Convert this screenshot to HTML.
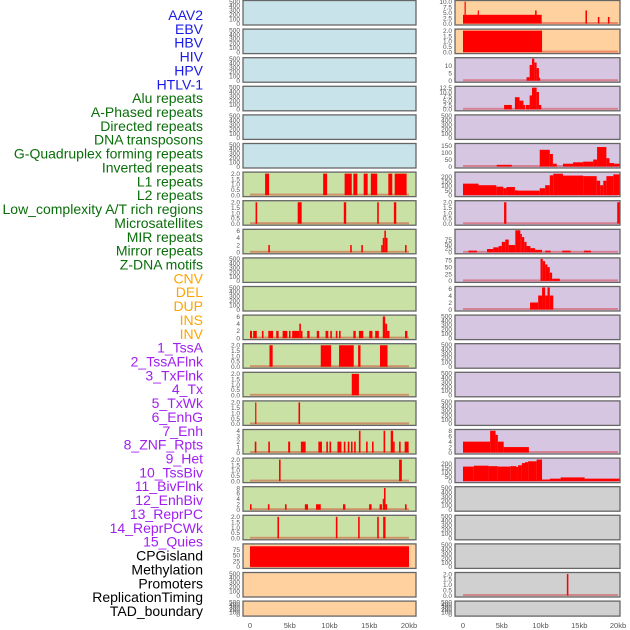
<!DOCTYPE html>
<html><head><meta charset="utf-8"><style>
body{margin:0;background:#fff;width:630px;height:630px;overflow:hidden}
svg{display:block}
</style></head><body>
<svg id="chart" width="630" height="630" xmlns="http://www.w3.org/2000/svg" font-family="Liberation Sans, sans-serif"></svg>
<script>
// ---- Labels ----
const labelTexts = ["AAV2","EBV","HBV","HIV","HPV","HTLV-1","Alu repeats","A-Phased repeats","Directed repeats","DNA transposons","G-Quadruplex forming repeats","Inverted repeats","L1 repeats","L2 repeats","Low_complexity A/T rich regions","Microsatellites","MIR repeats","Mirror repeats","Z-DNA motifs","CNV","DEL","DUP","INS","INV","1_TssA","2_TssAFlnk","3_TxFlnk","4_Tx","5_TxWk","6_EnhG","7_Enh","8_ZNF_Rpts","9_Het","10_TssBiv","11_BivFlnk","12_EnhBiv","13_ReprPC","14_ReprPCWk","15_Quies","CPGisland","Methylation","Promoters","ReplicationTiming","TAD_boundary"];
const labelGroups = [6,13,5,15,5];
const groupColors = ["#1a1ae6","#0a6e0a","#ffa500","#a020f0","#000000"];

// ---- Tick sets ----
const t500 = [0,100,200,300,400,500];
const t2 = [0,0.5,1,1.5,2];
const t6 = [0,2,4,6];
const t4 = [0,1,2,3,4];
const t8 = [0,2,4,6,8];
const t75 = [0,25,50,75];
const t10 = [0,2.5,5,7.5,10];
const t5 = [0,5,10];
const t125 = [0,2.5,5,7.5,10,12.5];
const t150 = [0,50,100,150];
const t200 = [0,50,100,150,200];
const xTickKb = [0,5,10,15,20];
const xTickText = ["0","5kb","10kb","15kb","20kb"];

// ---- Left column series [startKb,endKb,value] ----
const L6 = [[1.9,2.4,2],[9.2,9.7,2],[11.9,12.8,2],[13.0,13.5,2],[14.3,14.8,2],[15.2,16.0,2],[17.4,17.9,2],[18.2,19.7,2]];
const L7 = [[0.7,0.9,2],[6.0,6.5,2],[11.8,12.1,2],[16.0,16.2,2],[18.1,18.4,2]];
const L8 = [[2.3,2.5,2],[12.6,12.8,2],[14.0,14.2,2],[16.5,16.7,2],[16.7,16.9,4],[16.9,17.1,6],[17.1,17.3,4],[19.5,19.7,2]];
const L11 = [[0,0.25,2],[0.4,0.85,2],[1.5,1.7,2],[2.3,2.9,2],[3.3,3.6,2],[4.1,4.7,2],[4.9,5.1,2],[5.3,6.2,2],[6.2,6.4,4],[6.4,6.6,2],[7.2,7.5,2],[8.4,8.7,2],[9.5,9.85,2],[10.1,10.3,2],[10.8,11.0,2],[11.2,11.4,2],[13.0,13.3,2],[13.7,14.25,2],[15.0,15.4,2],[15.75,16.2,2],[16.7,17.0,6],[17.0,17.25,4],[17.25,17.55,2],[19.5,19.8,2]];
const L12 = [[2.45,2.85,2],[8.9,10.2,2],[11.2,13.05,2],[13.6,13.9,2],[16.35,17.3,2]];
const L13 = [[12.8,13.7,2]];
const L14 = [[0.65,0.8,2],[6.1,6.3,2]];
const L15 = [[0.6,0.8,2],[2.3,2.5,2],[4.8,5.05,2],[6.4,7.0,2],[8.6,9.05,2],[9.6,9.8,2],[10.0,10.2,2],[11.0,11.5,2],[11.8,12.0,2],[12.3,12.5,2],[12.7,12.9,2],[13.1,13.3,2],[13.7,13.9,4],[14.6,14.8,2],[15.35,15.55,2],[16.8,17.0,4],[17.7,18.0,4],[18.0,18.2,2],[18.75,18.95,2],[19.45,19.95,2]];
const L16 = [[3.65,3.85,2],[18.75,19.1,2]];
const L17 = [[0,0.2,2],[2.25,2.45,2],[4.4,4.6,2],[6.9,7.3,2],[8.3,8.9,2],[11.7,12.0,2],[14.98,15.3,2],[16.3,16.6,2],[16.7,16.85,4],[16.85,17.05,8],[17.05,17.25,2],[19.5,19.7,2]];
const L18 = [[3.45,3.65,2],[10.8,11.0,2],[13.6,13.8,2],[16.0,16.2,2],[16.75,17.05,2]];
const L19 = [[0,20,90]];

// ---- Right column series ----
const R0 = [[0,10.15,4],[0.2,0.35,10],[1.9,2.0,6],[9.3,9.5,6],[15.8,16.0,6],[17.4,17.6,3],[18.7,18.9,3]];
const R1 = [[0,10.2,2]];
const R2 = [[8.2,8.6,2.3],[8.6,8.9,10.4],[8.9,9.2,14.5],[9.2,9.5,12],[9.5,9.8,8.3],[9.8,9.95,2]];
const R3 = [[5.3,6.3,2.5],[6.7,7.3,7],[7.3,7.8,5],[7.8,8.0,2.5],[8.1,8.6,2.5],[8.6,8.9,8],[8.9,9.5,12.5],[9.5,9.8,10],[9.8,10.1,2.5]];
const R5 = [[4.35,6.3,12],[9.9,11.2,120],[11.2,11.6,90],[11.6,12.1,20],[12.9,14.2,20],[14.2,15.5,30],[15.5,16.8,35],[16.8,17.3,50],[17.3,18.5,140],[18.5,18.9,60],[18.9,19.5,25],[19.5,20.2,20]];
const R6 = [[0,2.0,125],[2.0,4.3,108],[4.3,5.2,92],[5.2,5.6,75],[5.6,6.7,88],[6.7,7.1,52],[7.1,9.9,49],[9.9,10.6,75],[10.6,11.2,108],[11.2,11.65,216],[11.65,12.9,233],[12.9,15.5,213],[15.5,17.25,207],[17.25,17.7,157],[17.7,18.1,108],[18.1,18.5,157],[18.5,19.4,207],[19.4,20.2,226]];
const R7 = [[5.3,5.6,2],[19.9,20.2,2]];
const R8 = [[0.7,1.8,10],[3.1,3.9,20],[3.9,4.6,30],[4.6,5.0,38],[5.0,5.45,63],[5.45,5.9,77],[5.9,6.75,44],[6.75,7.4,135],[7.4,7.6,111],[7.6,7.9,92],[7.9,8.2,63],[8.2,8.7,38],[8.7,9.3,25],[9.3,10.2,15],[10.6,11.3,10],[12.8,13.9,10],[15.6,16.5,10]];
const R9 = [[10.0,10.3,80],[10.3,10.6,72],[10.6,10.9,60],[10.9,11.2,50],[11.2,11.5,30],[11.5,12.5,8]];
const R10 = [[8.65,9.7,2],[9.7,10.2,4],[10.2,10.6,6.3],[10.6,10.9,4],[10.9,11.2,6.3],[11.2,11.65,4]];
const R15 = [[0,3.5,4],[3.5,4.2,8],[4.2,4.5,6.5],[4.5,5.25,4],[5.25,8.5,2]];
const R16 = [[0,1.4,165],[1.4,3.3,175],[3.3,4.5,170],[4.5,6.1,165],[6.1,6.9,170],[6.9,7.1,160],[7.1,7.6,180],[7.6,8.0,205],[8.0,8.4,215],[8.4,9.5,225],[9.5,10.2,245],[10.2,11.2,18],[11.2,12.6,28],[12.6,15.7,42],[15.7,20.2,28]];
const R20 = [[13.4,13.6,2]];

const BG = {blue:"#c9e3eb",green:"#c9e1a4",peach:"#ffd19f",lav:"#d7c6e2",gray:"#d0d0d0"};
// [bg, ticks, ymax, series]
const leftPanels = [
 ["blue",t500,500,null],["blue",t500,500,null],["blue",t500,500,null],["blue",t500,500,null],["blue",t500,500,null],["blue",t500,500,null],
 ["green",t2,2.05,L6],["green",t2,2.05,L7],["green",t6,6.1,L8],["green",t500,500,null],["green",t500,500,null],
 ["green",t6,6.1,L11],["green",t2,2.05,L12],["green",t2,2.05,L13],["green",t2,2.05,L14],["green",t4,4.05,L15],["green",t2,2.05,L16],["green",t8,8.1,L17],["green",t2,2.05,L18],
 ["peach",t75,96,L19],["peach",t500,500,null],["peach",t500,500,null]
];
const rightPanels = [
 ["peach",t10,10.1,R0],["peach",t2,2.05,R1],["lav",t5,14.5,R2],["lav",t125,12.7,R3],["lav",t500,500,null],["lav",t150,158,R5],
 ["lav",t200,240,R6],["lav",t2,2.05,R7],["lav",t75,133,R8],["lav",t75,80,R9],["lav",t6,6.3,R10],
 ["lav",t500,500,null],["lav",t500,500,null],["lav",t500,500,null],["lav",t500,500,null],["lav",t8,8.1,R15],["lav",t200,250,R16],
 ["gray",t500,500,null],["gray",t500,500,null],["gray",t500,500,null],["gray",t2,2.05,R20],["gray",t500,500,null]
];

const NS = "http://www.w3.org/2000/svg";
const svg = document.getElementById('chart');
function mk(tag, attrs, parent){
  const e = document.createElementNS(NS, tag);
  for (const k in attrs) e.setAttribute(k, attrs[k]);
  (parent||svg).appendChild(e);
  return e;
}
function rowTop(i){ return 0.5 + i*28.6; }
function rowH(i){ return i===21 ? 15 : 24.5; }
const cols = [
  {px0:243, px1:416, x0:250, x1:409, panels:leftPanels, name:'left'},
  {px0:455, px1:620, x0:463, x1:618, panels:rightPanels, name:'right'}
];

let li = 0;
labelGroups.forEach((n, g) => {
  for (let k = 0; k < n; k++, li++) {
    const t = mk('text', {x:203, y:(15 + li*13.86 + 5).toFixed(1), 'text-anchor':'end', 'font-size':'14', fill:groupColors[g]});
    
    
    t.textContent = labelTexts[li];
  }
});

cols.forEach(col => {
  const xs = kb => col.x0 + kb/20*(col.x1-col.x0);
  col.panels.forEach((p, i) => {
    const T = rowTop(i), H = rowH(i);
    const g = mk('g', {});
    
    
    const r = mk('rect', {x:col.px0, y:T, width:col.px1-col.px0, height:H, fill:BG[p[0]], stroke:'#666', 'stroke-width':1.3}, g);
    
    
    const yb = T + H - 1.5, yt = T + 1;
    const ys = v => yb - Math.min(v, p[2])/p[2]*(yb-yt);
    const decimal = p[1].some(v => v % 1 !== 0);
    p[1].forEach(tv => {
      const t = mk('text', {x:col.px0-3, y:(ys(tv)+2.3).toFixed(1), 'text-anchor':'end', 'font-size':'6.5', fill:'#555'}, g);
      
      
      t.textContent = decimal ? tv.toFixed(1) : String(tv);
    });
    if (p[3]) {
      const base = mk('rect', {x:xs(0), y:yb-1.5, width:xs(20)-xs(0), height:2, fill:'rgba(210,0,0,0.35)'}, g);
      
      
      p[3].forEach(b => {
        const y = ys(b[2]);
        const br = mk('rect', {x:xs(b[0]).toFixed(2), y:y.toFixed(2), width:Math.max(1.2, xs(b[1])-xs(b[0])).toFixed(2), height:(yb-y).toFixed(2), fill:'#ff0000'}, g);
        
        
      });
    }
  });
  xTickKb.forEach((kb, k) => {
    const t = mk('text', {x:xs(kb), y:628, 'text-anchor':'middle', 'font-size':'7.5', fill:'#555'});
    
    
    t.textContent = xTickText[k];
  });
});
</script>
</body></html>
